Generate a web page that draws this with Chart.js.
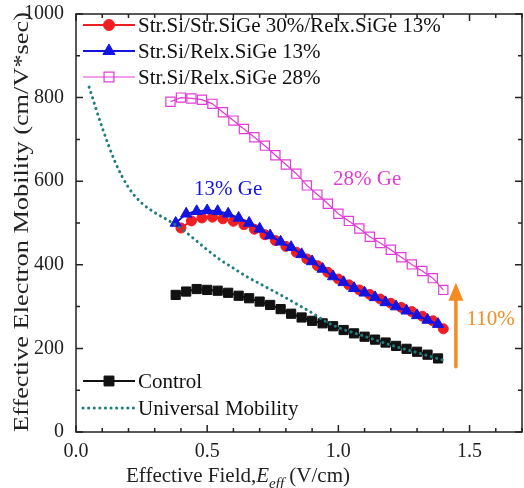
<!DOCTYPE html>
<html>
<head>
<meta charset="utf-8">
<script src="https://cdn.jsdelivr.net/npm/chart.js@4.4.1/dist/chart.umd.min.js"></script>
<style>
  html, body { margin: 0; padding: 0; background: #fff; }
  #wrap { width: 524px; height: 488px; }
</style>
</head>
<body>
<div id="wrap"><canvas id="mobilityChart" width="524" height="488"></canvas></div>
<script>
// data (x: effective field V/cm, y: mobility cm2/Vs)
const xRed = [0.40, 0.44, 0.48, 0.52, 0.56, 0.60, 0.64, 0.68, 0.72, 0.76, 0.80, 0.84, 0.88,
              0.92, 0.96, 1.00, 1.04, 1.08, 1.12, 1.16, 1.20, 1.24, 1.28, 1.32, 1.36, 1.40];
const yRed = [488, 505, 512, 514, 510, 504, 496, 485, 472, 458, 444, 430, 414,
              398, 382, 366, 352, 340, 329, 318, 308, 298, 288, 277, 266, 247];

const xBlue = [0.38, 0.42, 0.46, 0.50, 0.54, 0.58, 0.62, 0.66, 0.70, 0.74, 0.78, 0.82, 0.86,
               0.90, 0.94, 0.98, 1.02, 1.06, 1.10, 1.14, 1.18, 1.22, 1.26, 1.30, 1.34, 1.38];
const yBlue = [500, 522, 528, 530, 528, 522, 512, 500, 486, 470, 455, 442, 425,
               408, 390, 372, 358, 344, 333, 322, 310, 300, 290, 279, 268, 258];

const xPink = [0.36, 0.40, 0.44, 0.48, 0.52, 0.56, 0.60, 0.64, 0.68, 0.72, 0.76, 0.80, 0.84, 0.88,
               0.92, 0.96, 1.00, 1.04, 1.08, 1.12, 1.16, 1.20, 1.24, 1.28, 1.32, 1.36, 1.40];
const yPink = [790, 800, 798, 795, 785, 765, 745, 725, 705, 685, 662, 640, 618, 590,
               568, 546, 522, 505, 487, 467, 452, 436, 418, 401, 385, 368, 340];

const xControl = [0.38, 0.42, 0.46, 0.50, 0.54, 0.58, 0.62, 0.66, 0.70, 0.74, 0.78, 0.82, 0.86,
                  0.90, 0.94, 0.98, 1.02, 1.06, 1.10, 1.14, 1.18, 1.22, 1.26, 1.30, 1.34, 1.38];
const yControl = [328, 336, 342, 340, 338, 333, 326, 320, 312, 304, 294, 283, 274,
                  266, 260, 253, 244, 236, 228, 221, 214, 206, 199, 192, 185, 176];

const xUniversal = [0.05, 0.10, 0.15, 0.20, 0.25, 0.30, 0.35, 0.40, 0.45, 0.50, 0.55, 0.60,
                    0.65, 0.70, 0.75, 0.80, 0.85, 0.90, 0.95, 1.00, 1.10, 1.20, 1.30, 1.40];
const yUniversal = [825, 728, 645, 585, 548, 525, 507, 487, 462, 436, 412, 392,
                    372, 355, 338, 321, 303, 285, 265, 250, 229, 208, 190, 172];

const xTickValues = [0, 0.5, 1.0, 1.5];
const yTickValues = [0, 200, 400, 600, 800, 1000];

const seriesLabels = ['Str.Si/Str.SiGe 30%/Relx.SiGe 13%', 'Str.Si/Relx.SiGe 13%',
                      'Str.Si/Relx.SiGe 28%', 'Control', 'Universal Mobility'];

const SERIF = "'Liberation Serif', 'DejaVu Serif', serif";
const RED = 'rgb(240,30,35)', BLUE = 'rgb(20,20,225)', PINK = 'rgb(225,60,215)';
const TEAL = 'rgb(30,125,125)', ORANGE = 'rgb(245,140,35)';

function pts(xs, ys) { return xs.map((x, i) => ({ x: x, y: ys[i] })); }

// frame on all four sides with inward ticks, like the origin-style plot
const frameTicks = {
  id: 'frameTicks',
  beforeDatasetsDraw(chart) {
    const { ctx, chartArea: a, scales: { x, y } } = chart;
    ctx.save();
    ctx.strokeStyle = '#222';
    ctx.lineWidth = 1.5;
    ctx.strokeRect(a.left, a.top, a.right - a.left, a.bottom - a.top);
    for (let v = 0; v <= 1.7001; v += 0.1) {
      const px = x.getPixelForValue(v);
      const major = Math.abs(v * 2 - Math.round(v * 2)) < 1e-6;
      const len = major ? 7 : 4;
      ctx.beginPath();
      ctx.moveTo(px, a.bottom); ctx.lineTo(px, a.bottom - len);
      ctx.moveTo(px, a.top); ctx.lineTo(px, a.top + len);
      ctx.stroke();
    }
    for (let v = 0; v <= 1000; v += 100) {
      const py = y.getPixelForValue(v);
      const len = v % 200 === 0 ? 7 : 4;
      ctx.beginPath();
      ctx.moveTo(a.left, py); ctx.lineTo(a.left + len, py);
      ctx.moveTo(a.right, py); ctx.lineTo(a.right - len, py);
      ctx.stroke();
    }
    ctx.restore();
  }
};

// titles, legends and the text/arrow annotations
const extras = {
  id: 'extras',
  afterDatasetsDraw(chart) {
    const { ctx, scales: { x, y } } = chart;
    const ds = chart.data.datasets;
    ctx.save();

    // legend rows: [series label index, row y]
    const rows = [[0, 25], [1, 51], [2, 77], [3, 381], [4, 408]];
    rows.forEach(([i, ry]) => {
      const d = ds.find(s => s.label === seriesLabels[i]);
      ctx.strokeStyle = d.borderColor;
      ctx.lineWidth = d.borderWidth;
      ctx.setLineDash(d.borderDash || []);
      ctx.lineCap = d.borderDash ? 'round' : 'butt';
      ctx.beginPath(); ctx.moveTo(83, ry); ctx.lineTo(135, ry); ctx.stroke();
      ctx.setLineDash([]);
      if (d.pointRadius > 0) {
        ctx.fillStyle = d.pointBackgroundColor;
        ctx.strokeStyle = d.pointBorderColor;
        ctx.lineWidth = d.pointBorderWidth;
        Chart.helpers.drawPoint(ctx, { pointStyle: d.pointStyle, radius: d.pointRadius + 0.5,
          rotation: 0, borderWidth: d.pointBorderWidth }, 109, ry);
      }
      ctx.fillStyle = '#111';
      ctx.font = '21px ' + SERIF;
      ctx.textAlign = 'left'; ctx.textBaseline = 'middle';
      ctx.fillText(d.label, 138, ry + 1);
    });

    // annotations
    ctx.font = '21px ' + SERIF;
    ctx.textAlign = 'center'; ctx.textBaseline = 'middle';
    ctx.fillStyle = BLUE;
    ctx.fillText('13% Ge', x.getPixelForValue(0.58), y.getPixelForValue(580));
    ctx.fillStyle = PINK;
    ctx.fillText('28% Ge', x.getPixelForValue(1.11), y.getPixelForValue(604));
    ctx.fillStyle = ORANGE;
    ctx.fillText('110%', x.getPixelForValue(1.58), y.getPixelForValue(268));

    // orange arrow
    const ax = x.getPixelForValue(1.448);
    const yTop = y.getPixelForValue(357), yBot = y.getPixelForValue(156);
    ctx.strokeStyle = ORANGE; ctx.lineWidth = 3.5;
    ctx.beginPath(); ctx.moveTo(ax, yBot); ctx.lineTo(ax, yTop + 14); ctx.stroke();
    ctx.beginPath();
    ctx.moveTo(ax, yTop); ctx.lineTo(ax - 7.5, yTop + 18); ctx.lineTo(ax + 7.5, yTop + 18);
    ctx.closePath(); ctx.fill();

    // y title (stretched along its length like the source figure)
    ctx.fillStyle = '#222';
    ctx.font = '21px ' + SERIF;
    const yt = 'Effective Electron Mobility (cm/V*sec)';
    const w = ctx.measureText(yt).width;
    ctx.save();
    ctx.translate(22, 222);
    ctx.rotate(-Math.PI / 2);
    ctx.scale(420 / w, 1);
    ctx.textAlign = 'center'; ctx.textBaseline = 'middle';
    ctx.fillText(yt, 0, 0);
    ctx.restore();

    // x title with italic E and subscript eff
    ctx.textAlign = 'left'; ctx.textBaseline = 'alphabetic';
    const p1 = 'Effective Field,', p2 = 'E', p3 = 'eff', p4 = ' (V/cm)';
    const f1 = '21px ' + SERIF, f2 = 'italic 21px ' + SERIF, f3 = 'italic 15px ' + SERIF;
    ctx.font = f1; const w1 = ctx.measureText(p1).width, w4 = ctx.measureText(p4).width;
    ctx.font = f2; const w2 = ctx.measureText(p2).width;
    ctx.font = f3; const w3 = ctx.measureText(p3).width;
    let cx = 238 - (w1 + w2 + w3 + w4) / 2;
    const base = 482;
    ctx.font = f1; ctx.fillText(p1, cx, base); cx += w1;
    ctx.font = f2; ctx.fillText(p2, cx, base); cx += w2;
    ctx.font = f3; ctx.fillText(p3, cx, base + 6); cx += w3;
    ctx.font = f1; ctx.fillText(p4, cx, base);

    ctx.restore();
  }
};

new Chart(document.getElementById('mobilityChart'), {
  type: 'scatter',
  data: {
    datasets: [
      {
        label: seriesLabels[4], data: pts(xUniversal, yUniversal), order: 0,
        showLine: true, borderColor: TEAL, borderWidth: 3, borderDash: [0.1, 5.5],
        borderCapStyle: 'round', pointRadius: 0, cubicInterpolationMode: 'monotone'
      },
      {
        label: seriesLabels[1], data: pts(xBlue, yBlue), order: 1,
        showLine: true, borderColor: BLUE, borderWidth: 2,
        pointStyle: 'triangle', pointRadius: 6.5, pointBackgroundColor: BLUE,
        pointBorderColor: BLUE, pointBorderWidth: 1
      },
      {
        label: seriesLabels[0], data: pts(xRed, yRed), order: 2,
        showLine: true, borderColor: RED, borderWidth: 2,
        pointStyle: 'circle', pointRadius: 5, pointBackgroundColor: RED,
        pointBorderColor: RED, pointBorderWidth: 1
      },
      {
        label: seriesLabels[2], data: pts(xPink, yPink), order: 3,
        showLine: true, borderColor: PINK, borderWidth: 1.2,
        pointStyle: 'rect', pointRadius: 6.5, pointBackgroundColor: 'rgba(255,255,255,0)',
        pointBorderColor: PINK, pointBorderWidth: 1.2
      },
      {
        label: seriesLabels[3], data: pts(xControl, yControl), order: 4,
        showLine: true, borderColor: '#111', borderWidth: 2,
        pointStyle: 'rect', pointRadius: 6.5, pointBackgroundColor: '#111',
        pointBorderColor: '#111', pointBorderWidth: 1
      }
    ]
  },
  options: {
    responsive: false,
    animation: false,
    layout: { autoPadding: false, padding: { top: 14, right: 2, left: 0, bottom: 0 } },
    plugins: { legend: { display: false }, tooltip: { enabled: false } },
    scales: {
      x: {
        type: 'linear', min: 0, max: 1.7,
        afterBuildTicks: s => { s.ticks = xTickValues.map(v => ({ value: v })); },
        afterFit: s => { s.height = 56; s.paddingLeft = 0; s.paddingRight = 0; },
        grid: { display: false, drawTicks: false },
        border: { display: false },
        ticks: {
          padding: 8, color: '#222', font: { family: SERIF, size: 20 },
          maxRotation: 0, callback: v => Number(v).toFixed(1)
        }
      },
      y: {
        type: 'linear', min: 0, max: 1000,
        afterBuildTicks: s => { s.ticks = yTickValues.map(v => ({ value: v })); },
        afterFit: s => { s.width = 76; s.paddingTop = 0; s.paddingBottom = 0; },
        grid: { display: false, drawTicks: false },
        border: { display: false },
        ticks: { padding: 12, color: '#222', font: { family: SERIF, size: 20 }, callback: v => String(v) }
      }
    }
  },
  plugins: [frameTicks, extras]
});
</script>
</body>
</html>
